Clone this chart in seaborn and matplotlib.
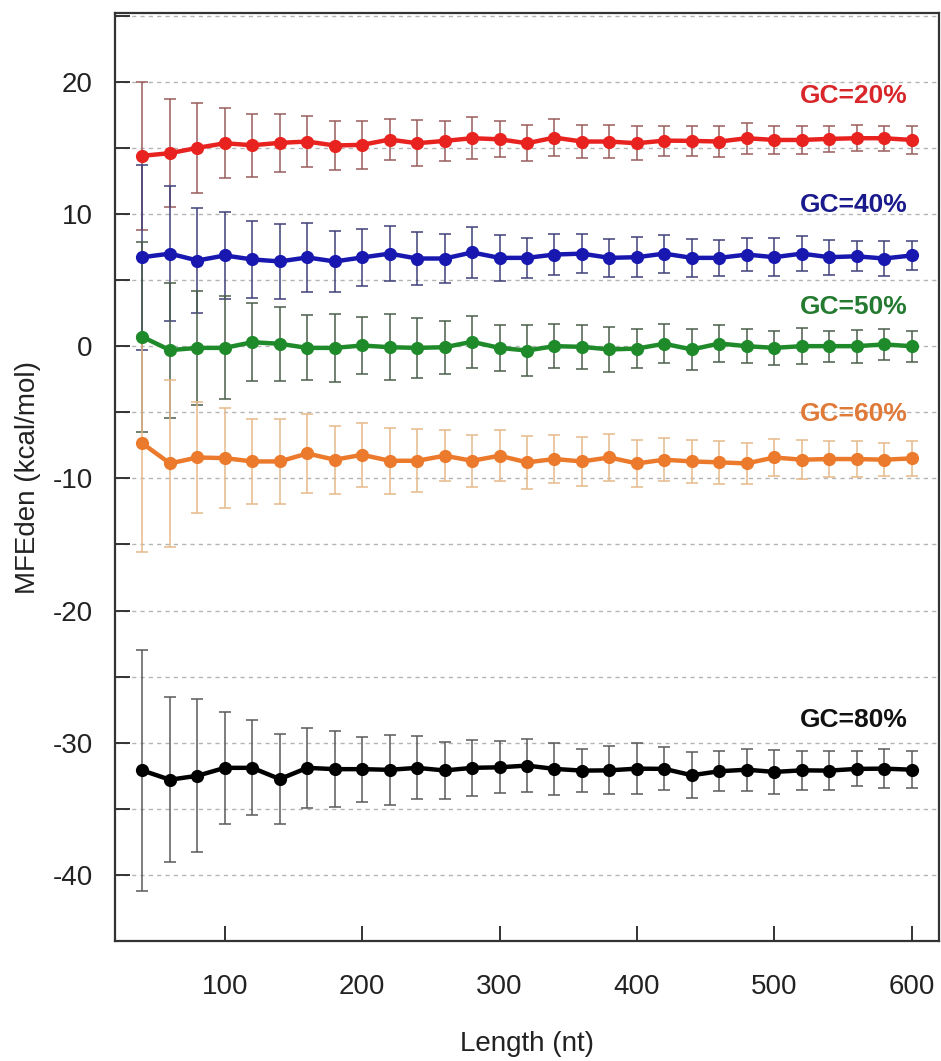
import pandas as pd
import seaborn as sns
import matplotlib.pyplot as plt
from matplotlib.ticker import MultipleLocator

# Longueurs des séquences (nt)
longueurs = [40, 60, 80, 100, 120, 140, 160, 180, 200, 220, 240, 260, 280, 300,
             320, 340, 360, 380, 400, 420, 440, 460, 480, 500, 520, 540, 560, 580, 600]

# MFEden moyen et écart-type pour chaque GC
gc20_moy = [14.4, 14.6, 15.0, 15.35, 15.2, 15.38, 15.48, 15.18, 15.23, 15.63, 15.35, 15.53, 15.73, 15.65,
            15.35, 15.78, 15.48, 15.48, 15.35, 15.55, 15.53, 15.48, 15.73, 15.6, 15.6, 15.68, 15.73, 15.73, 15.6]
gc20_sd = [5.6, 4.1, 3.4, 2.65, 2.4, 2.2, 1.93, 1.85, 1.83, 1.55, 1.75, 1.5, 1.6, 1.35,
           1.38, 1.4, 1.26, 1.26, 1.3, 1.13, 1.15, 1.15, 1.18, 1.05, 1.05, 1.0, 1.0, 0.93, 1.05]

gc40_moy = [6.73, 7.0, 6.48, 6.86, 6.56, 6.41, 6.71, 6.41, 6.71, 7.0, 6.63, 6.63, 7.09, 6.68,
            6.68, 6.93, 7.0, 6.68, 6.73, 7.0, 6.68, 6.68, 6.93, 6.73, 7.0, 6.73, 6.8, 6.63, 6.86]
gc40_sd = [7.0, 5.1, 4.0, 3.3, 2.94, 2.84, 2.6, 2.33, 2.16, 2.07, 2.0, 1.86, 1.91, 1.76,
           1.5, 1.56, 1.48, 1.43, 1.53, 1.43, 1.43, 1.38, 1.26, 1.46, 1.3, 1.33, 1.13, 1.3, 1.08]

gc50_moy = [0.7, -0.3, -0.13, -0.13, 0.3, 0.18, -0.13, -0.13, 0.05, -0.08, -0.13, -0.08, 0.33, -0.13,
            -0.33, 0.0, -0.05, -0.25, -0.18, 0.18, -0.25, 0.2, 0.0, -0.13, 0.0, 0.0, 0.0, 0.13, 0.0]
gc50_sd = [7.2, 5.1, 4.3, 3.9, 2.95, 2.8, 2.45, 2.56, 2.18, 2.48, 2.25, 2.0, 1.97, 1.75,
           1.95, 1.68, 1.68, 1.68, 1.48, 1.46, 1.56, 1.43, 1.3, 1.3, 1.38, 1.18, 1.26, 1.18, 1.18]

gc60_moy = [-7.36, -8.87, -8.42, -8.47, -8.72, -8.72, -8.12, -8.59, -8.22, -8.67, -8.67, -8.29, -8.67, -8.29,
            -8.79, -8.54, -8.72, -8.42, -8.87, -8.59, -8.72, -8.79, -8.87, -8.42, -8.59, -8.54, -8.54, -8.59, -8.49]
gc60_sd = [8.2, 6.3, 4.2, 3.8, 3.2, 3.2, 2.97, 2.56, 2.4, 2.5, 2.39, 1.93, 1.96, 1.93,
           2.0, 1.83, 1.86, 1.81, 1.76, 1.63, 1.63, 1.63, 1.53, 1.38, 1.48, 1.38, 1.38, 1.26, 1.33]

gc80_moy = [-32.1, -32.8, -32.5, -31.9, -31.9, -32.75, -31.9, -32.0, -32.0, -32.05, -31.9, -32.1, -31.9, -31.86,
            -31.73, -31.98, -32.11, -32.09, -31.96, -31.98, -32.46, -32.16, -32.04, -32.21, -32.09, -32.11, -31.98, -31.96, -32.04]
gc80_sd = [9.14, 6.25, 5.8, 4.23, 3.6, 3.43, 3.02, 2.9, 2.47, 2.64, 2.39, 2.14, 2.14, 1.96,
           2.0, 1.96, 1.63, 1.81, 1.93, 1.63, 1.73, 1.5, 1.58, 1.68, 1.5, 1.46, 1.33, 1.48, 1.38]

etiquettes = ["GC=20%", "GC=40%", "GC=50%", "GC=60%", "GC=80%"]
moyennes = [gc20_moy, gc40_moy, gc50_moy, gc60_moy, gc80_moy]
ecarts = [gc20_sd, gc40_sd, gc50_sd, gc60_sd, gc80_sd]

couleurs = ["#e8221f", "#1818b0", "#1e8a2a", "#ec7a2c", "#000000"]
couleurs_err = ["#9a5c5c", "#40407a", "#4a5e4a", "#e6b98a", "#5a5a5a"]
couleurs_txt = ["#d8262a", "#1a1a8c", "#237a30", "#e07a38", "#111111"]
pos_txt = [18.9, 10.7, 3.0, -5.1, -28.3]

xticks = [100, 200, 300, 400, 500, 600]
yticks = [-40, -30, -20, -10, 0, 10, 20]

# Tableau long pour seaborn
df = pd.concat([pd.DataFrame({"Length": longueurs, "MFEden": m, "GC": e})
                for m, e in zip(moyennes, etiquettes)], ignore_index=True)

sns.set_style("white")
plt.rcParams['font.family'] = ['Liberation Sans', 'DejaVu Sans']
plt.rcParams['axes.unicode_minus'] = False

fig = plt.figure(figsize=(9.41, 10.61), dpi=100)
ax = fig.add_axes([0.1222, 0.1131, 0.8757, 0.8746])

# Barres d'erreur
for m, s, c in zip(moyennes, ecarts, couleurs_err):
    ax.errorbar(longueurs, m, yerr=s, fmt='none', ecolor=c, elinewidth=1.1,
                capsize=4.5, capthick=1.1, zorder=2)

sns.lineplot(data=df, x="Length", y="MFEden", hue="GC", palette=dict(zip(etiquettes, couleurs)),
             marker='o', markersize=9.5, markeredgewidth=0, linewidth=3.2,
             legend=False, errorbar=None, ax=ax, zorder=3)

for lab, y, c in zip(etiquettes, pos_txt, couleurs_txt):
    ax.text(597, y, lab, color=c, fontsize=19, fontweight='bold', ha='right', va='center')

ax.set_xlim(20, 620)
ax.set_ylim(-45, 25.2)
ax.set_xticks(xticks)
ax.set_yticks(yticks)
ax.yaxis.set_minor_locator(MultipleLocator(5))
ax.grid(True, axis='y', which='both', linestyle=(0, (3, 3)), color='#b5b5b5', linewidth=1)
ax.set_axisbelow(True)

ax.tick_params(axis='both', which='both', direction='in', length=11, width=1.4,
               color='#333333', labelsize=20, labelcolor='#222222',
               bottom=True, left=True, top=False, right=False)
ax.tick_params(axis='x', which='minor', bottom=False)
ax.tick_params(axis='x', pad=24)
ax.tick_params(axis='y', pad=16)

for sp in ax.spines.values():
    sp.set_color('#333333')
    sp.set_linewidth(1.6)

ax.set_xlabel("Length (nt)", fontsize=20, labelpad=22, color='#222222')
ax.set_ylabel("MFEden (kcal/mol)", fontsize=20, labelpad=8, color='#222222')

fig.savefig("out.png", dpi=100)
